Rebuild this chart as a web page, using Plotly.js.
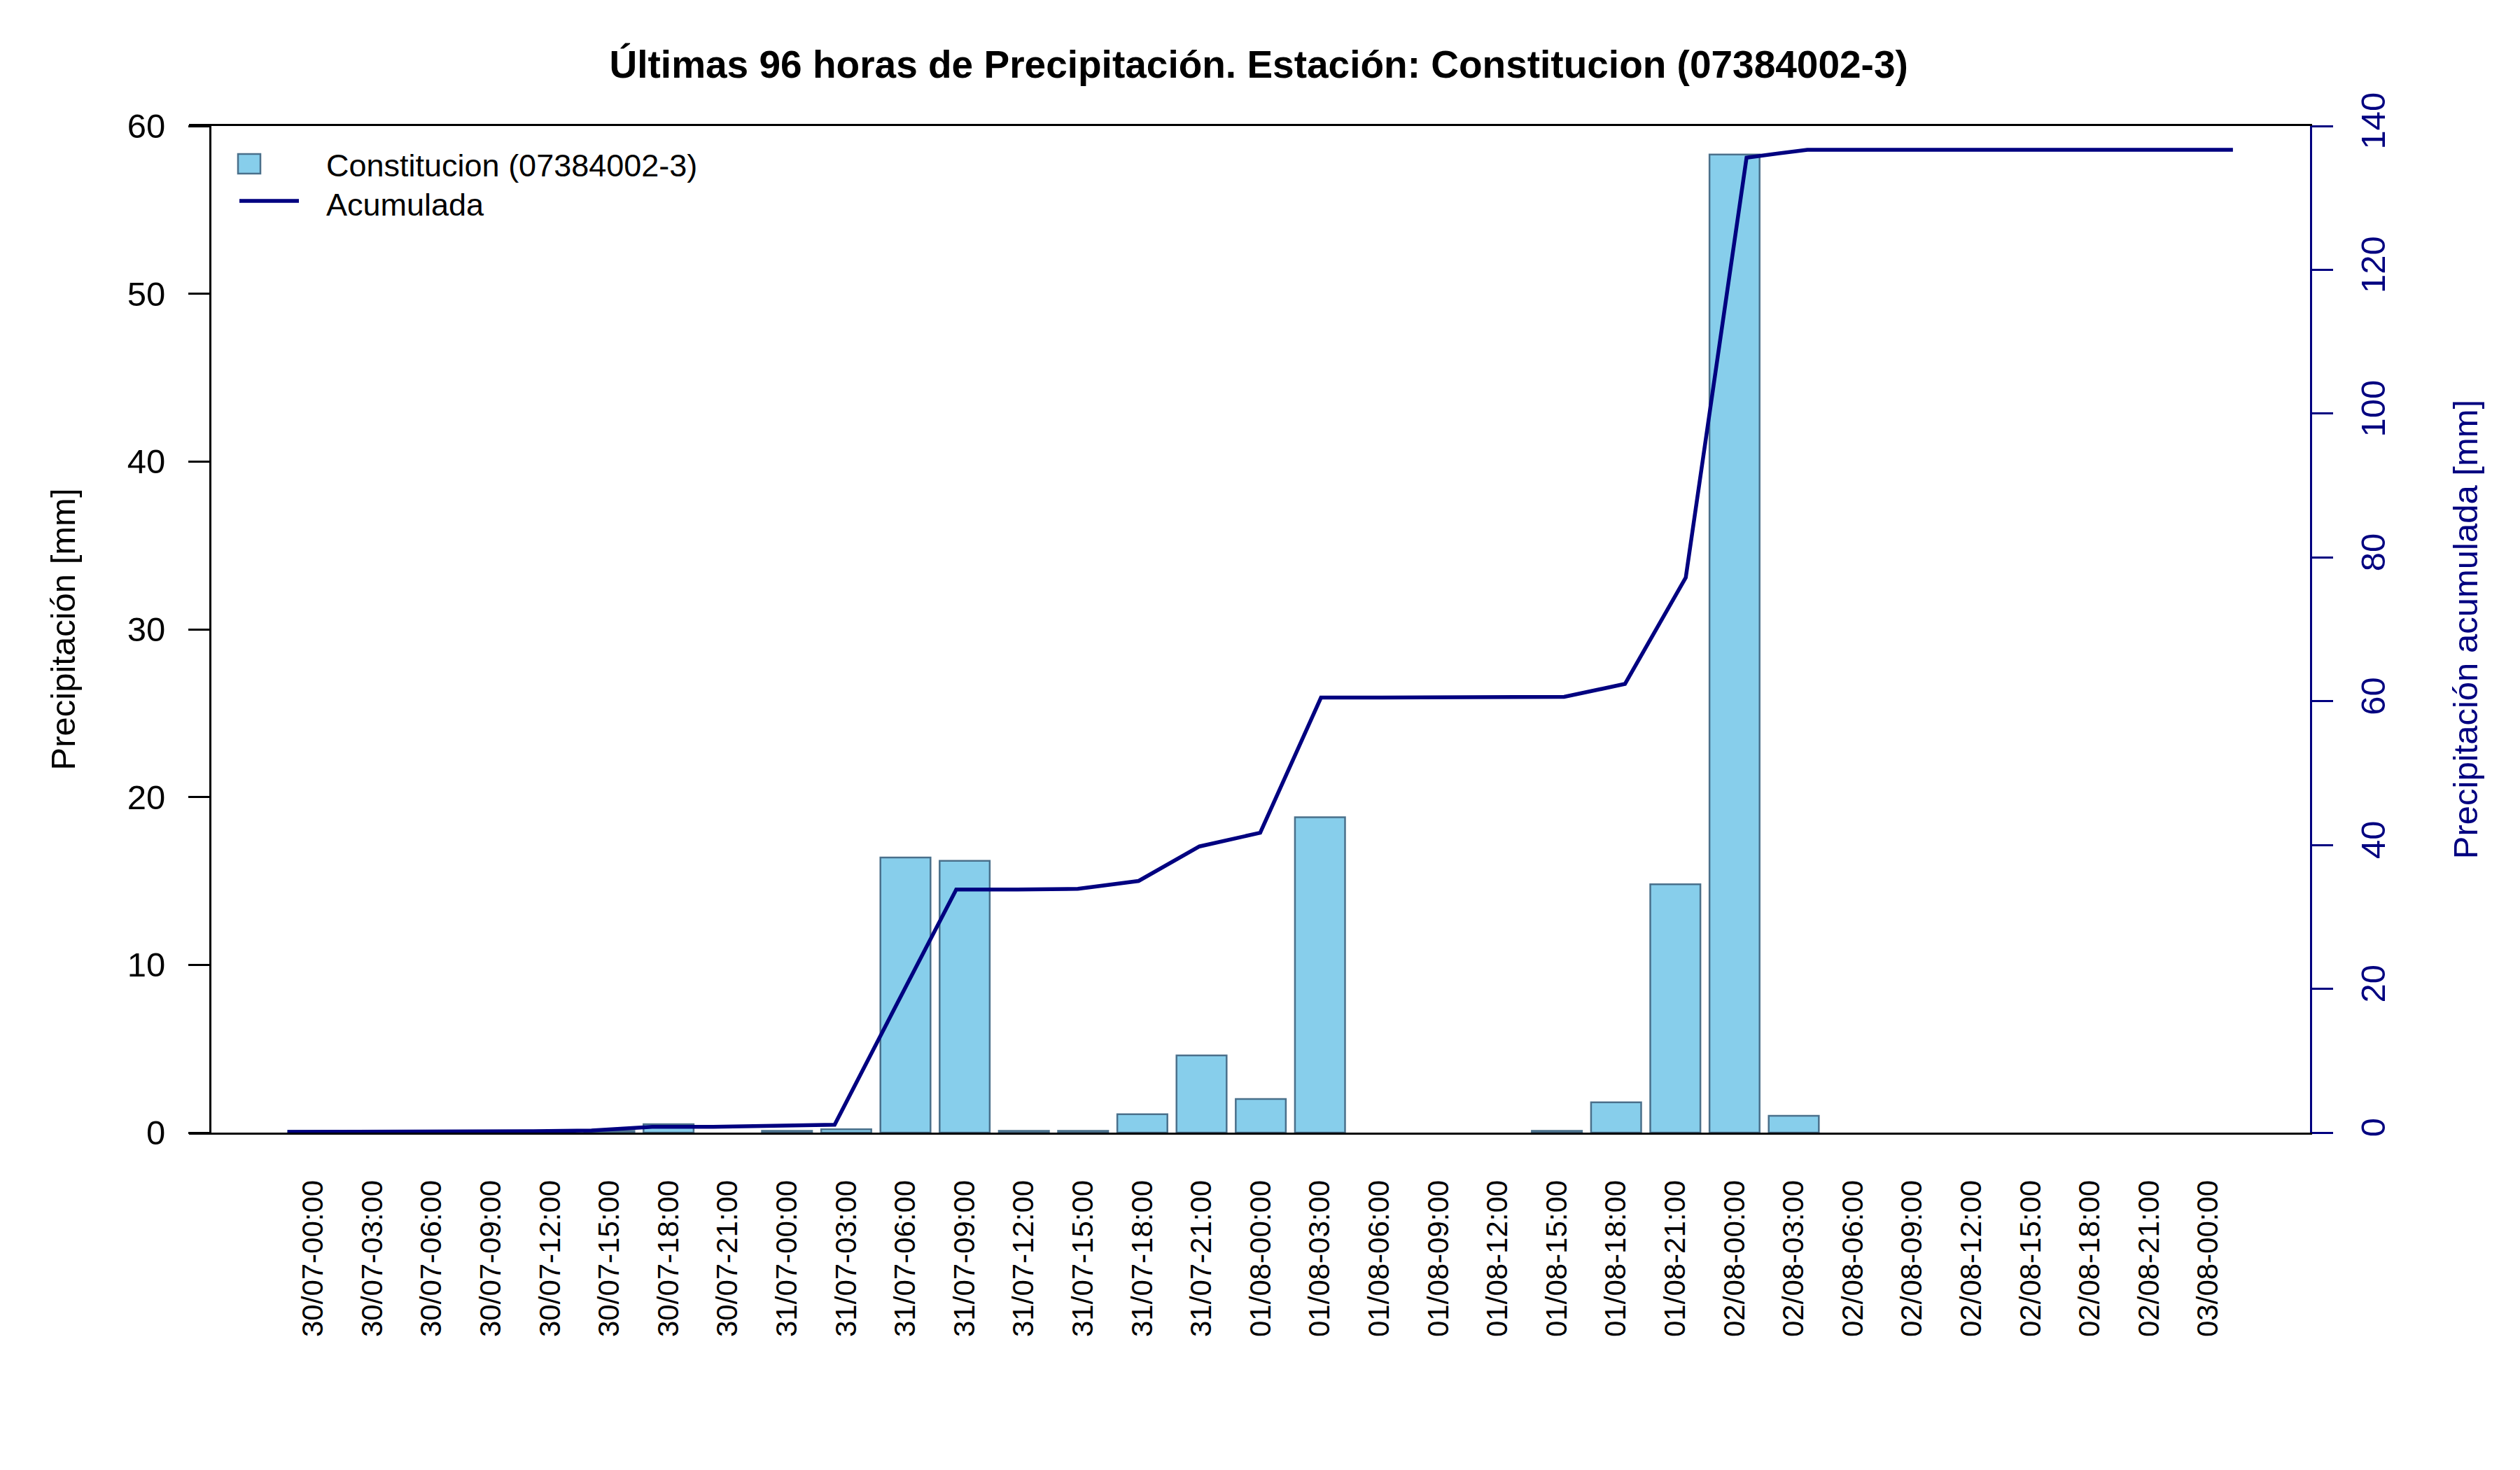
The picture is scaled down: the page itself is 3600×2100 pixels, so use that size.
<!DOCTYPE html>
<html>
<head>
<meta charset="utf-8">
<script src="https://cdn.plot.ly/plotly-3.0.1.min.js"></script>
<style>
  html, body { margin: 0; padding: 0; background: #fff; }
  #plot { width: 3600px; height: 2100px; }
</style>
</head>
<body>
<div id="plot"></div>
<script>
const labels = [
  "30/07-00:00", "30/07-03:00", "30/07-06:00", "30/07-09:00",
  "30/07-12:00", "30/07-15:00", "30/07-18:00", "30/07-21:00",
  "31/07-00:00", "31/07-03:00", "31/07-06:00", "31/07-09:00",
  "31/07-12:00", "31/07-15:00", "31/07-18:00", "31/07-21:00",
  "01/08-00:00", "01/08-03:00", "01/08-06:00", "01/08-09:00",
  "01/08-12:00", "01/08-15:00", "01/08-18:00", "01/08-21:00",
  "02/08-00:00", "02/08-03:00", "02/08-06:00", "02/08-09:00",
  "02/08-12:00", "02/08-15:00", "02/08-18:00", "02/08-21:00",
  "03/08-00:00"
];

// precipitation per 3 h [mm]
const precip = [
  0.1, 0, 0, 0, 0.1, 0.1, 0.5, 0,
  0.1, 0.2, 16.4, 16.2, 0.1, 0.1, 1.1, 4.6,
  2.0, 18.8, 0, 0, 0, 0.1, 1.8, 14.8,
  58.3, 1.0, 0, 0, 0, 0, 0, 0,
  0
];

// accumulated precipitation [mm]
const accum = [
  0.1, 0.1, 0.1, 0.1, 0.2, 0.3, 0.8, 0.8,
  0.9, 1.1, 17.5, 33.8, 33.8, 33.9, 35.0, 39.8,
  41.7, 60.5, 60.5, 60.5, 60.5, 60.6, 62.4, 77.2,
  135.6, 136.7, 136.7, 136.7, 136.7, 136.7, 136.7, 136.7,
  136.7
];

const leftTicks = [0, 10, 20, 30, 40, 50, 60];
const rightTicks = [0, 20, 40, 60, 80, 100, 120, 140];

const stationName = "Constitucion (07384002-3)";
const accumName = "Acumulada";
const titleText = "Últimas 96 horas de Precipitación. Estación: " + stationName;

const FONT = "'Liberation Sans', Arial, Helvetica, sans-serif";
const NAVY = "#000080";
const SKY = "#87CEEB";
const SKY_EDGE = "#4A708B";

const W = 3600;
const H = 2100;
const M = { l: 270, r: 300, t: 180, b: 482 };
const plotW = W - M.l - M.r;
const plotH = H - M.t - M.b;

// px -> paper helpers for the hand-made legend
const px = (x) => (x - M.l) / plotW;
const py = (y) => (H - M.b - y) / plotH;

// no outline on empty bars, like the original
const edgeWidths = precip.map((v) => (v > 0 ? 2.5 : 0));

const traces = [
  {
    type: "bar",
    name: stationName,
    x: labels,
    y: precip,
    xaxis: "x",
    yaxis: "y",
    width: 0.846,
    marker: { color: SKY, line: { color: SKY_EDGE, width: edgeWidths } },
    hoverinfo: "skip",
    showlegend: false
  },
  {
    type: "scatter",
    mode: "lines",
    name: accumName,
    x: labels,
    y: accum,
    xaxis: "x2",
    yaxis: "y2",
    line: { color: NAVY, width: 5.5 },
    hoverinfo: "skip",
    showlegend: false
  }
];

const layout = {
  width: W,
  height: H,
  margin: M,
  paper_bgcolor: "#fff",
  plot_bgcolor: "rgba(0,0,0,0)",
  font: { family: FONT, color: "#000" },
  showlegend: false,
  title: {
    text: titleText,
    font: { family: FONT, size: 55, weight: "bold", color: "#000" },
    xref: "container",
    yref: "container",
    x: 0.4995,
    y: 1 - 92 / H,
    xanchor: "center",
    yanchor: "middle"
  },
  xaxis: {
    type: "category",
    categoryorder: "array",
    categoryarray: labels,
    range: [-2.098, 33.717],
    showline: true,
    mirror: true,
    linecolor: "#000",
    linewidth: 3,
    ticks: "",
    tickangle: -90,
    tickfont: { family: FONT, size: 42, color: "#000" },
    ticklabelstandoff: 48,
    showgrid: false,
    zeroline: false,
    fixedrange: true
  },
  xaxis2: {
    type: "category",
    categoryorder: "array",
    categoryarray: labels,
    overlaying: "x",
    anchor: "y2",
    range: [-1.62, 33.268],
    visible: false,
    fixedrange: true
  },
  yaxis: {
    range: [0, 60],
    tickvals: leftTicks,
    anchor: "free",
    position: 30 / plotW,
    showline: true,
    linecolor: "#000",
    linewidth: 3,
    ticks: "outside",
    ticklen: 30,
    tickwidth: 3,
    tickcolor: "#000",
    tickfont: { family: FONT, size: 49, color: "#000" },
    ticklabelstandoff: 23,
    showgrid: false,
    zeroline: false,
    title: {
      text: "Precipitación [mm]",
      font: { family: FONT, size: 49, color: "#000" },
      standoff: 57
    },
    fixedrange: true
  },
  yaxis2: {
    range: [0, 140],
    tickvals: rightTicks,
    overlaying: "y",
    side: "right",
    anchor: "x",
    showline: true,
    linecolor: NAVY,
    linewidth: 3,
    ticks: "outside",
    ticklen: 30,
    tickwidth: 3,
    tickcolor: NAVY,
    tickangle: -90,
    tickfont: { family: FONT, size: 49, color: NAVY },
    ticklabelstandoff: 15,
    showgrid: false,
    zeroline: false,
    title: {
      text: "Precipitación acumulada [mm]",
      font: { family: FONT, size: 49, color: NAVY },
      standoff: 89
    },
    fixedrange: true
  },
  shapes: [
    {
      type: "rect", xref: "paper", yref: "paper",
      x0: px(340), x1: px(372), y0: py(248), y1: py(220),
      fillcolor: SKY, line: { color: SKY_EDGE, width: 2.5 }
    },
    {
      type: "line", xref: "paper", yref: "paper",
      x0: px(342), x1: px(427), y0: py(287), y1: py(287),
      line: { color: NAVY, width: 5.5 }
    }
  ],
  annotations: [
    {
      xref: "paper", yref: "paper", x: px(464), y: py(237),
      xanchor: "left", yanchor: "middle", showarrow: false,
      text: stationName, font: { family: FONT, size: 45, color: "#000" }
    },
    {
      xref: "paper", yref: "paper", x: px(464), y: py(292),
      xanchor: "left", yanchor: "middle", showarrow: false,
      text: accumName, font: { family: FONT, size: 45, color: "#000" }
    }
  ]
};

const config = { displayModeBar: false, staticPlot: true };

Plotly.newPlot("plot", traces, layout, config);
</script>
</body>
</html>
